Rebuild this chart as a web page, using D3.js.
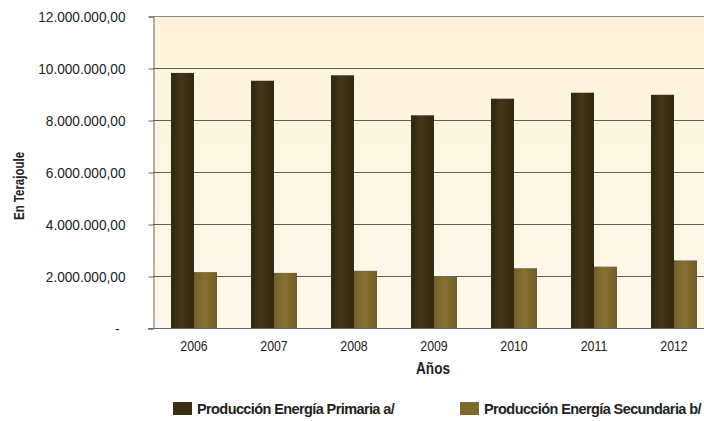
<!DOCTYPE html>
<html><head><meta charset="utf-8">
<script src="https://cdn.jsdelivr.net/npm/d3@7"></script>
<style>
html,body{margin:0;padding:0;background:#fff;}
svg{display:block;font-family:"Liberation Sans",Arial,sans-serif;}
</style></head>
<body>
<svg id="chart" width="704" height="421"></svg>
<script>
const years = ["2006","2007","2008","2009","2010","2011","2012"];
const primaria = [9810000, 9510000, 9720000, 8180000, 8820000, 9050000, 8970000];
const secundaria = [2150000, 2120000, 2200000, 1990000, 2300000, 2360000, 2600000];
const seriesNames = ["Producción Energía Primaria a/", "Producción Energía Secundaria b/"];
const yTicks = [0, 2000000, 4000000, 6000000, 8000000, 10000000, 12000000];
const yTickLabels = ["-", "2.000.000,00", "4.000.000,00", "6.000.000,00", "8.000.000,00", "10.000.000,00", "12.000.000,00"];

const svg = d3.select("#chart");
const L = 153, R = 714, T = 16, B = 328;
function condense(sel, f){
  sel.each(function(){
    const w = this.getComputedTextLength();
    d3.select(this).attr("textLength", w*f).attr("lengthAdjust","spacingAndGlyphs");
  });
}

const defs = svg.append("defs");
const bg = defs.append("linearGradient").attr("id","bg").attr("x1",0).attr("y1",0).attr("x2",0).attr("y2",1);
bg.append("stop").attr("offset","0%").attr("stop-color","#fef2da");
bg.append("stop").attr("offset","100%").attr("stop-color","#fef8ec");
function barGrad(id, edge, mid){
  const g = defs.append("linearGradient").attr("id",id).attr("x1",0).attr("y1",0).attr("x2",1).attr("y2",0);
  g.append("stop").attr("offset","0%").attr("stop-color",edge);
  g.append("stop").attr("offset","45%").attr("stop-color",mid);
  g.append("stop").attr("offset","100%").attr("stop-color",edge);
}
barGrad("gp","#2f2710","#43361a");
barGrad("gs","#6f5f27","#857131");
const colors = ["url(#gp)","url(#gs)"];
const swatch = ["#3a2f14","#7c6a2d"];

const y = d3.scaleLinear().domain([0,12000000]).range([B,T]);
const x0 = d3.scaleBand().domain(years).range([L+1,R]).padding(0);
const x1 = d3.scaleBand().domain([0,1]).range([17,63]).padding(0);

svg.append("rect").attr("x",L).attr("y",T).attr("width",R-L).attr("height",B-T).attr("fill","url(#bg)");

svg.append("g").selectAll("line").data(yTicks.filter(d=>d>0)).join("line")
  .attr("x1",L).attr("x2",R).attr("y1",d=>y(d)+0.5).attr("y2",d=>y(d)+0.5)
  .attr("stroke",d=>d===12000000?"#8a8a80":"#5f5f55").attr("stroke-width",1.2);

const yAxis = d3.axisLeft(y).tickValues(yTicks).tickSize(5).tickPadding(23)
  .tickFormat((d,i)=>yTickLabels[i]);
const ya = svg.append("g").attr("transform",`translate(${L+0.5},0.5)`).call(yAxis);
ya.select(".domain").attr("stroke","#6a6a60");
ya.selectAll(".tick line").attr("stroke","#6a6a60");
ya.selectAll(".tick text").attr("font-size","15px").attr("fill","#222").call(condense, 0.91);
ya.selectAll(".tick").filter(d=>d===0).select("text").attr("dx","-6");

const data = years.map((yr,i)=>({yr, vals:[primaria[i], secundaria[i]]}));
const groups = svg.append("g").selectAll("g").data(data).join("g")
  .attr("transform",d=>`translate(${x0(d.yr)},0)`);
groups.selectAll("rect").data(d=>d.vals.map((v,k)=>({v,k}))).join("rect")
  .attr("x",d=>x1(d.k)).attr("width",x1.bandwidth())
  .attr("y",d=>y(d.v)).attr("height",d=>B-y(d.v))
  .attr("fill",d=>colors[d.k]);

svg.append("line").attr("x1",L-5).attr("x2",R).attr("y1",B+0.5).attr("y2",B+0.5).attr("stroke","#6a6a60").attr("stroke-width",1.2);
const xAxis = d3.axisBottom(x0).tickSize(0).tickPadding(13);
const xa = svg.append("g").attr("transform",`translate(0,${B})`).call(xAxis);
xa.select(".domain").remove();
xa.selectAll(".tick text").attr("font-size","14px").attr("fill","#222").call(condense, 0.88);

svg.append("text").attr("x",433).attr("y",374).attr("text-anchor","middle")
  .attr("font-size","16px").attr("font-weight","bold").attr("fill","#222").text("Años").call(condense, 0.85);
svg.append("text").attr("transform","translate(24,186) rotate(-90)").attr("text-anchor","middle")
  .attr("font-size","14px").attr("font-weight","bold").attr("fill","#222").text("En Terajoule").call(condense, 0.82);

const legX = [173, 460];
const leg = svg.append("g").selectAll("g").data(seriesNames).join("g")
  .attr("transform",(d,i)=>`translate(${legX[i]},402)`);
leg.append("rect").attr("width",19).attr("height",13).attr("fill",(d,i)=>swatch[i]);
leg.append("text").attr("x",24).attr("y",12).attr("font-size","14.5px").attr("font-weight","bold")
  .attr("letter-spacing","-0.6px").attr("fill","#222").text(d=>d);
</script>
</body></html>
